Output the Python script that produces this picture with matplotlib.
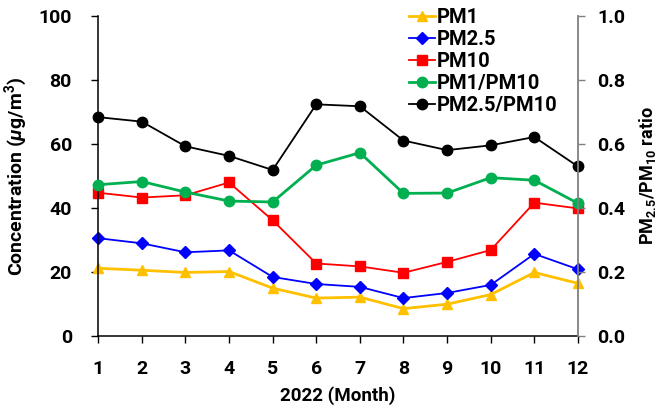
import matplotlib
matplotlib.use("Agg")
import matplotlib.pyplot as plt

plt.rcParams['font.family'] = ['Roboto', 'DejaVu Sans']
plt.rcParams['font.weight'] = 'bold'
plt.rcParams['mathtext.fontset'] = 'custom'
plt.rcParams['mathtext.rm'] = 'Roboto:bold'
plt.rcParams['mathtext.it'] = 'Roboto:bold:italic'
plt.rcParams['mathtext.bf'] = 'Roboto:bold'
plt.rcParams['mathtext.default'] = 'rm'

months = [1, 2, 3, 4, 5, 6, 7, 8, 9, 10, 11, 12]
pm1 = [21.2, 20.6, 19.9, 20.2, 15.0, 11.9, 12.2, 8.6, 10.0, 13.0, 19.9, 16.5]
pm25 = [30.6, 29.0, 26.2, 26.8, 18.5, 16.3, 15.4, 11.9, 13.5, 16.0, 25.7, 20.9]
pm10 = [44.8, 43.3, 44.0, 48.0, 36.2, 22.7, 21.8, 19.8, 23.2, 26.9, 41.7, 39.9]
pm1_pm10 = [0.473, 0.483, 0.450, 0.422, 0.419, 0.534, 0.573, 0.446, 0.447, 0.495, 0.487, 0.415]
pm25_pm10 = [0.684, 0.670, 0.593, 0.563, 0.519, 0.724, 0.718, 0.611, 0.581, 0.596, 0.622, 0.530]

fig = plt.figure(figsize=(6.59, 4.09), dpi=100)
ax = fig.add_axes([0.149, 0.178, 0.728, 0.783])
ax2 = ax.twinx()

h1, = ax.plot(months, pm1, color='#FFC000', marker='^', ms=7.5, lw=2, label='PM1')
h2, = ax.plot(months, pm25, color='#0000FF', marker='D', ms=6.5, lw=1.3, label='PM2.5')
h3, = ax.plot(months, pm10, color='#FF0000', marker='s', ms=7, lw=1.3, label='PM10')
h4, = ax2.plot(months, pm1_pm10, color='#00B050', marker='o', ms=7.5, lw=2, label='PM1/PM10')
h5, = ax2.plot(months, pm25_pm10, color='black', marker='o', ms=7.5, lw=1.3, label='PM2.5/PM10')

ax.set_xlim(1, 12)
ax.set_ylim(0, 100)
ax2.set_ylim(0, 1.0)
ax.set_xticks(months)
ax.set_yticks([0, 20, 40, 60, 80, 100])
ax2.set_yticks([0.0, 0.2, 0.4, 0.6, 0.8, 1.0])
ax2.set_yticklabels(['0.0', '0.2', '0.4', '0.6', '0.8', '1.0'])

for a in (ax, ax2):
    a.spines['top'].set_visible(False)
    a.tick_params(direction='out', length=5, width=1, labelsize=14)
ax.tick_params(axis='x', pad=12)
ax.tick_params(axis='y', pad=14)
ax2.tick_params(axis='y', pad=9)
ax.spines['right'].set_visible(False)
ax2.spines['left'].set_visible(False)
ax2.spines['bottom'].set_visible(False)
ax2.spines['right'].set_color('#808080')
ax2.spines['right'].set_linewidth(1.3)
ax2.yaxis.set_tick_params(color='#808080')
ax.spines['left'].set_linewidth(1.1)
ax.spines['bottom'].set_linewidth(1.1)
for l in ax.lines + ax2.lines:
    l.set_clip_on(False)

ax.set_xlabel('2022 (Month)', fontsize=13.5, fontweight='bold', labelpad=6)
ax.set_ylabel('Concentration ($\\mathit{\\mu}$g/m$^3$)', fontsize=14, fontweight='bold', labelpad=6)
ax2.set_ylabel('PM$_{2.5}$/PM$_{10}$ ratio', fontsize=13, fontweight='bold', labelpad=8)

ax2.legend(handles=[h1, h2, h3, h4, h5], loc='upper right', bbox_to_anchor=(0.975, 1.05),
           frameon=False, fontsize=14.5, handlelength=1.3, handletextpad=0.1,
           labelspacing=0.15, borderaxespad=0)

fig.savefig('out.png', dpi=100)
